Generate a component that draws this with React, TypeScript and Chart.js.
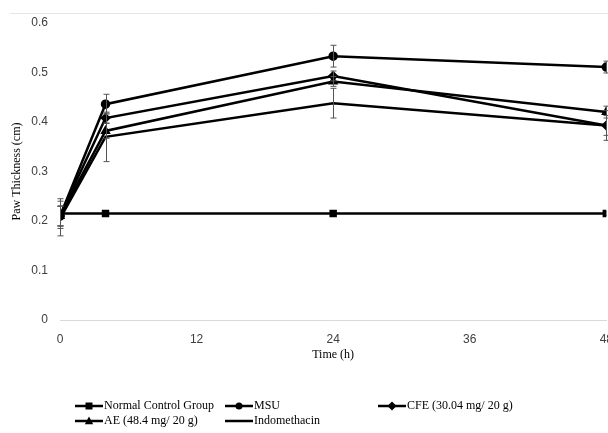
import React, { useEffect, useRef } from "react";
import { Chart, registerables } from "chart.js";

Chart.register(...registerables);

const times = [0, 4, 24, 48];
const xTicks = [0, 12, 24, 36, 48];

const normalControl = [0.215, 0.215, 0.215, 0.215];
const msu = [0.21, 0.436, 0.533, 0.511];
const cfe = [0.21, 0.408, 0.493, 0.393];
const ae = [0.21, 0.382, 0.482, 0.42];
const indomethacin = [0.205, 0.37, 0.438, 0.393];

const normalErr = [0.03, 0, 0, 0];
const msuErr = [0.02, 0.02, 0.022, 0.012];
const cfeErr = [0.02, 0.01, 0.01, 0.02];
const aeErr = [0.02, 0.015, 0.01, 0.012];
const indoErr = [0.035, 0.05, 0.03, 0.03];

const seriesNames = [
  "Normal Control Group",
  "MSU",
  "CFE (30.04 mg/ 20 g)",
  "AE (48.4 mg/ 20 g)",
  "Indomethacin",
];
const seriesValues = [normalControl, msu, cfe, ae, indomethacin];
const seriesErrors = [normalErr, msuErr, cfeErr, aeErr, indoErr];
const pointStyles: any[] = ["rect", "circle", "rectRot", "triangle", false];

const SERIF = "'Liberation Serif', 'DejaVu Serif', serif";
const SANS = "'Liberation Sans', Arial, sans-serif";

function drawMarker(ctx: CanvasRenderingContext2D, style: string, x: number, y: number, r: number) {
  ctx.beginPath();
  if (style === "rect") {
    ctx.rect(x - r, y - r, 2 * r, 2 * r);
  } else if (style === "circle") {
    ctx.arc(x, y, r, 0, Math.PI * 2);
  } else if (style === "rectRot") {
    ctx.moveTo(x, y - r * 1.3);
    ctx.lineTo(x + r * 1.3, y);
    ctx.lineTo(x, y + r * 1.3);
    ctx.lineTo(x - r * 1.3, y);
    ctx.closePath();
  } else if (style === "triangle") {
    ctx.moveTo(x, y - r * 1.3);
    ctx.lineTo(x + r * 1.2, y + r * 0.9);
    ctx.lineTo(x - r * 1.2, y + r * 0.9);
    ctx.closePath();
  }
  ctx.fill();
}

const errorBarPlugin = {
  id: "errorBars",
  afterDatasetsDraw(chart: any) {
    const ctx = chart.ctx;
    const y = chart.scales.y;
    ctx.save();
    ctx.strokeStyle = "#555";
    ctx.lineWidth = 1;
    chart.data.datasets.forEach((ds: any, i: number) => {
      const meta = chart.getDatasetMeta(i);
      const errs = ds.errors || [];
      meta.data.forEach((pt: any, j: number) => {
        const e = errs[j];
        if (!e) return;
        const v = ds.data[j].y;
        const top = y.getPixelForValue(v + e);
        const bot = y.getPixelForValue(v - e);
        const x = Math.round(pt.x) + 0.5;
        ctx.beginPath();
        ctx.moveTo(x, top);
        ctx.lineTo(x, bot);
        ctx.moveTo(x - 3, top);
        ctx.lineTo(x + 3, top);
        ctx.moveTo(x - 3, bot);
        ctx.lineTo(x + 3, bot);
        ctx.stroke();
      });
    });
    ctx.restore();
  },
};

const framePlugin = {
  id: "frame",
  beforeDraw(chart: any) {
    const ctx = chart.ctx;
    ctx.save();
    ctx.strokeStyle = "#e6e6e6";
    ctx.lineWidth = 1;
    ctx.beginPath();
    ctx.moveTo(10, 13.5);
    ctx.lineTo(chart.width, 13.5);
    ctx.stroke();
    ctx.restore();
  },
};

const legendPlugin = {
  id: "customLegend",
  afterDraw(chart: any) {
    const ctx = chart.ctx;
    const slots = [
      [75, 406],
      [225, 406],
      [378, 406],
      [75, 421],
      [225, 421],
    ];
    ctx.save();
    ctx.font = `12px ${SERIF}`;
    ctx.textBaseline = "middle";
    seriesNames.forEach((name, i) => {
      const [sx, sy] = slots[i];
      ctx.strokeStyle = "#000";
      ctx.lineWidth = 2.5;
      ctx.beginPath();
      ctx.moveTo(sx, sy);
      ctx.lineTo(sx + 28, sy);
      ctx.stroke();
      const ps = pointStyles[i];
      ctx.fillStyle = "#000";
      if (ps) drawMarker(ctx, ps, sx + 14, sy, 3.5);
      ctx.fillText(name, sx + 29, sy);
    });
    ctx.restore();
  },
};

export default function App() {
  const ref = useRef<HTMLCanvasElement>(null);
  useEffect(() => {
    if (!ref.current) return;
    const datasets = seriesNames.map((name, i) => ({
      label: name,
      data: times.map((t, j) => ({ x: t, y: seriesValues[i][j] })),
      errors: seriesErrors[i],
      borderColor: "#000",
      backgroundColor: "#000",
      borderWidth: 2.5,
      pointStyle: pointStyles[i] || "circle",
      pointRadius: pointStyles[i] ? 3.5 : 0,
      pointBackgroundColor: "#000",
      pointBorderColor: "#000",
      tension: 0,
    }));
    const chart = new Chart(ref.current, {
      type: "line",
      data: { datasets } as any,
      plugins: [framePlugin, errorBarPlugin, legendPlugin],
      options: {
        animation: false,
        responsive: false,
        maintainAspectRatio: false,
        layout: { padding: { top: 23, bottom: 71, left: 0, right: 0 } },
        plugins: { legend: { display: false }, tooltip: { enabled: false } },
        scales: {
          x: {
            type: "linear",
            min: 0,
            max: 48,
            afterBuildTicks: (s: any) => {
              s.ticks = xTicks.map((v) => ({ value: v }));
            },
            afterFit: (s: any) => {
              s.height = 42;
            },
            grid: { display: false, drawTicks: false },
            border: { display: true, color: "#d9d9d9", width: 1 },
            ticks: {
              padding: 12,
              color: "#404040",
              font: { family: SANS, size: 12 },
              maxRotation: 0,
            },
            title: {
              display: true,
              text: "Time (h)",
              color: "#000",
              font: { family: SERIF, size: 12 },
              padding: { top: 0, bottom: 0 },
            },
          },
          y: {
            min: 0,
            max: 0.6,
            afterFit: (s: any) => {
              s.width = 60;
            },
            grid: { display: false, drawTicks: false },
            border: { display: false },
            ticks: {
              stepSize: 0.1,
              padding: 12,
              color: "#404040",
              font: { family: SANS, size: 12 },
            },
            title: {
              display: true,
              text: "Paw Thickness (cm)",
              color: "#000",
              font: { family: SERIF, size: 12 },
              padding: { top: 10, bottom: 0 },
            },
          },
        },
      } as any,
    });
    return () => chart.destroy();
  }, []);
  return (
    <div style={{ position: "fixed", left: 0, top: 0, width: 608, height: 433, overflow: "hidden", background: "#fff" }}>
      <canvas ref={ref} width={625} height={433} style={{ display: "block", width: 625, height: 433 }} />
    </div>
  );
}
